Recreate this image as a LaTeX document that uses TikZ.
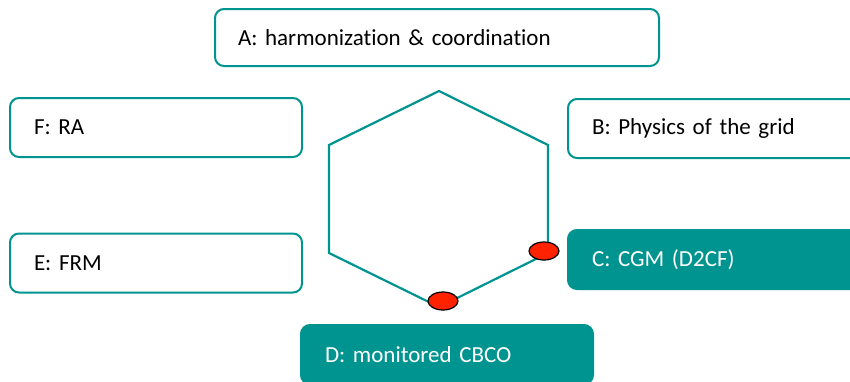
\documentclass[tikz,border=0pt]{standalone}
\usepackage{fontspec}
\setmainfont{Carlito}[Ligatures=NoCommon]
\usetikzlibrary{shapes.geometric}
\definecolor{tealc}{HTML}{009490}
\definecolor{dotred}{HTML}{FF2200}
\begin{document}
\begin{tikzpicture}[x=1pt,y=-1pt,
  boxbase/.style={rounded corners=9pt, line width=2pt, inner xsep=24pt, inner ysep=0pt,
    minimum width=292pt, minimum height=59pt, text width=244pt, align=left,
    font=\fontsize{23}{27}\selectfont},
  wbox/.style={boxbase, draw=tealc, fill=white, text=black},
  tbox/.style={boxbase, draw=tealc, fill=tealc, text=white},
  dot/.style={ellipse, draw=black, line width=1.2pt, fill=dotred, minimum width=30pt, minimum height=18pt, inner sep=0pt},
  hexline/.style={draw=tealc, line width=2.2pt}]
\useasboundingbox (0,0) rectangle (850,381);
\clip (0,0) rectangle (850,381);
% hexagon
\draw[hexline] (439,91) -- (548,145) -- (548,253) -- (439,307) -- (329,253) -- (329,145) -- cycle;
% boxes
\node[wbox, minimum width=444pt, minimum height=57pt, text width=398pt, inner xsep=23pt] (A) at (437,37.5) {A: harmonization \& coordination};
\node[wbox] (B) at (714,128.5) {B: Physics of the grid};
\node[tbox] (C) at (714,259.5) {C: CGM (D2CF)};
\node[tbox] (D) at (447,354.5) {D: monitored CBCO};
\node[wbox] (E) at (156,263) {E: FRM};
\node[wbox] (F) at (156,127.5) {F: RA};
% dots
\node[dot] (d1) at (544,251) {};
\node[dot] (d2) at (443,301) {};
\end{tikzpicture}
\end{document}
